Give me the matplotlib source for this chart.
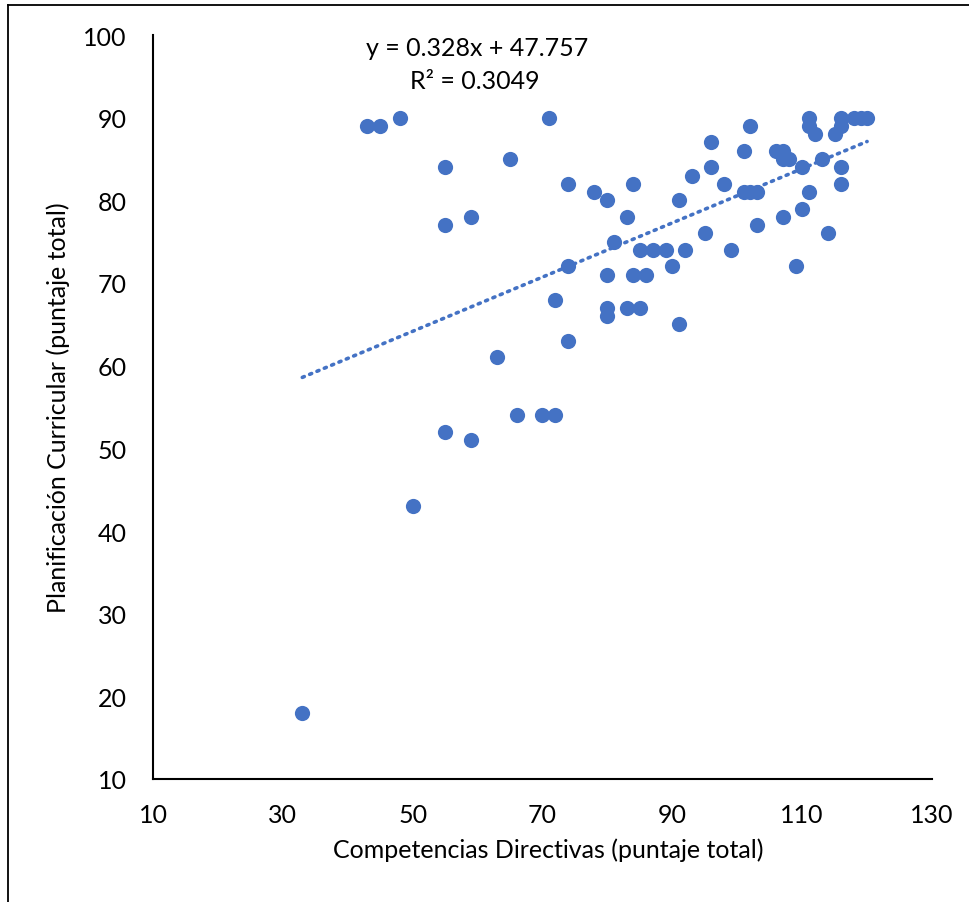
import matplotlib
matplotlib.use("Agg")
import matplotlib.pyplot as plt
from matplotlib.lines import Line2D
import numpy as np

# puntajes
competencias = [33, 43, 45, 48, 55, 55, 59, 55, 59, 50, 63, 65, 66, 71, 70, 72, 72, 74, 74, 74,
                78, 80, 84, 83, 81, 80, 84, 86, 85, 87, 89, 92, 90, 80, 80, 83, 85, 91, 91, 93,
                95, 96, 96, 98, 99, 102, 101, 101, 102, 103, 103, 106, 107, 107, 108, 110, 107,
                110, 111, 109, 114, 111, 111, 112, 113, 115, 116, 116, 118, 119, 120, 116, 116]
planificacion = [18, 89, 89, 90, 84, 77, 78, 52, 51, 43, 61, 85, 54, 90, 54, 54, 68, 82, 72, 63,
                 81, 80, 82, 78, 75, 71, 71, 71, 74, 74, 74, 74, 72, 67, 66, 67, 67, 65, 80, 83,
                 76, 87, 84, 82, 74, 89, 86, 81, 81, 81, 77, 86, 86, 85, 85, 84, 78,
                 79, 81, 72, 76, 90, 89, 88, 85, 88, 89, 90, 90, 90, 90, 84, 82]

# linea de tendencia (Excel)
pendiente = 0.328
intercepto = 47.757
r2 = 0.3049

x_ticks = [10, 30, 50, 70, 90, 110, 130]
y_ticks = [10, 20, 30, 40, 50, 60, 70, 80, 90, 100]

plt.rcParams['font.family'] = ['Lato', 'DejaVu Sans']
azul = '#4472C4'
fs = 18

fig = plt.figure(figsize=(9.7, 9.03), dpi=100)
ax = fig.add_axes([153/970, 1-780/903, (932-153)/970, (780-36)/903])

ax.scatter(competencias, planificacion, s=120, color=azul, zorder=3, linewidths=0)

xt = np.array([min(competencias), max(competencias)])
ax.plot(xt, pendiente*xt + intercepto, color=azul, linestyle=(0, (0.6, 1.6)),
        linewidth=2.6, dash_capstyle='round', zorder=2)

ax.text(60, 97.55, f'y = {pendiente}x + {intercepto}', ha='center', va='baseline', fontsize=fs)
ax.text(59.5, 93.55, f'R² = {r2}', ha='center', va='baseline', fontsize=fs)

ax.set_xlim(10, 130)
ax.set_ylim(10, 100)
ax.set_xticks(x_ticks)
ax.set_yticks(y_ticks)
ax.tick_params(axis='x', length=0, labelsize=fs, pad=17)
ax.tick_params(axis='y', length=0, labelsize=fs, pad=19)
for s in ['top', 'right']:
    ax.spines[s].set_visible(False)
for s in ['left', 'bottom']:
    ax.spines[s].set_linewidth(1.5)

ax.set_xlabel('Competencias Directivas (puntaje total)', fontsize=fs)
ax.set_ylabel('Planificación Curricular (puntaje total)', fontsize=fs)
ax.xaxis.set_label_coords(0.508, -0.079)
ax.yaxis.set_label_coords(-0.106, 0.5)

# borde del area del grafico (recortado)
fig.add_artist(Line2D([8/970, 8/970], [0, 1-6/903], color='black', linewidth=1.3,
                      transform=fig.transFigure))
fig.add_artist(Line2D([8/970, 1], [1-6/903, 1-6/903], color='black', linewidth=1.3,
                      transform=fig.transFigure))

fig.savefig('out.png', dpi=100)
